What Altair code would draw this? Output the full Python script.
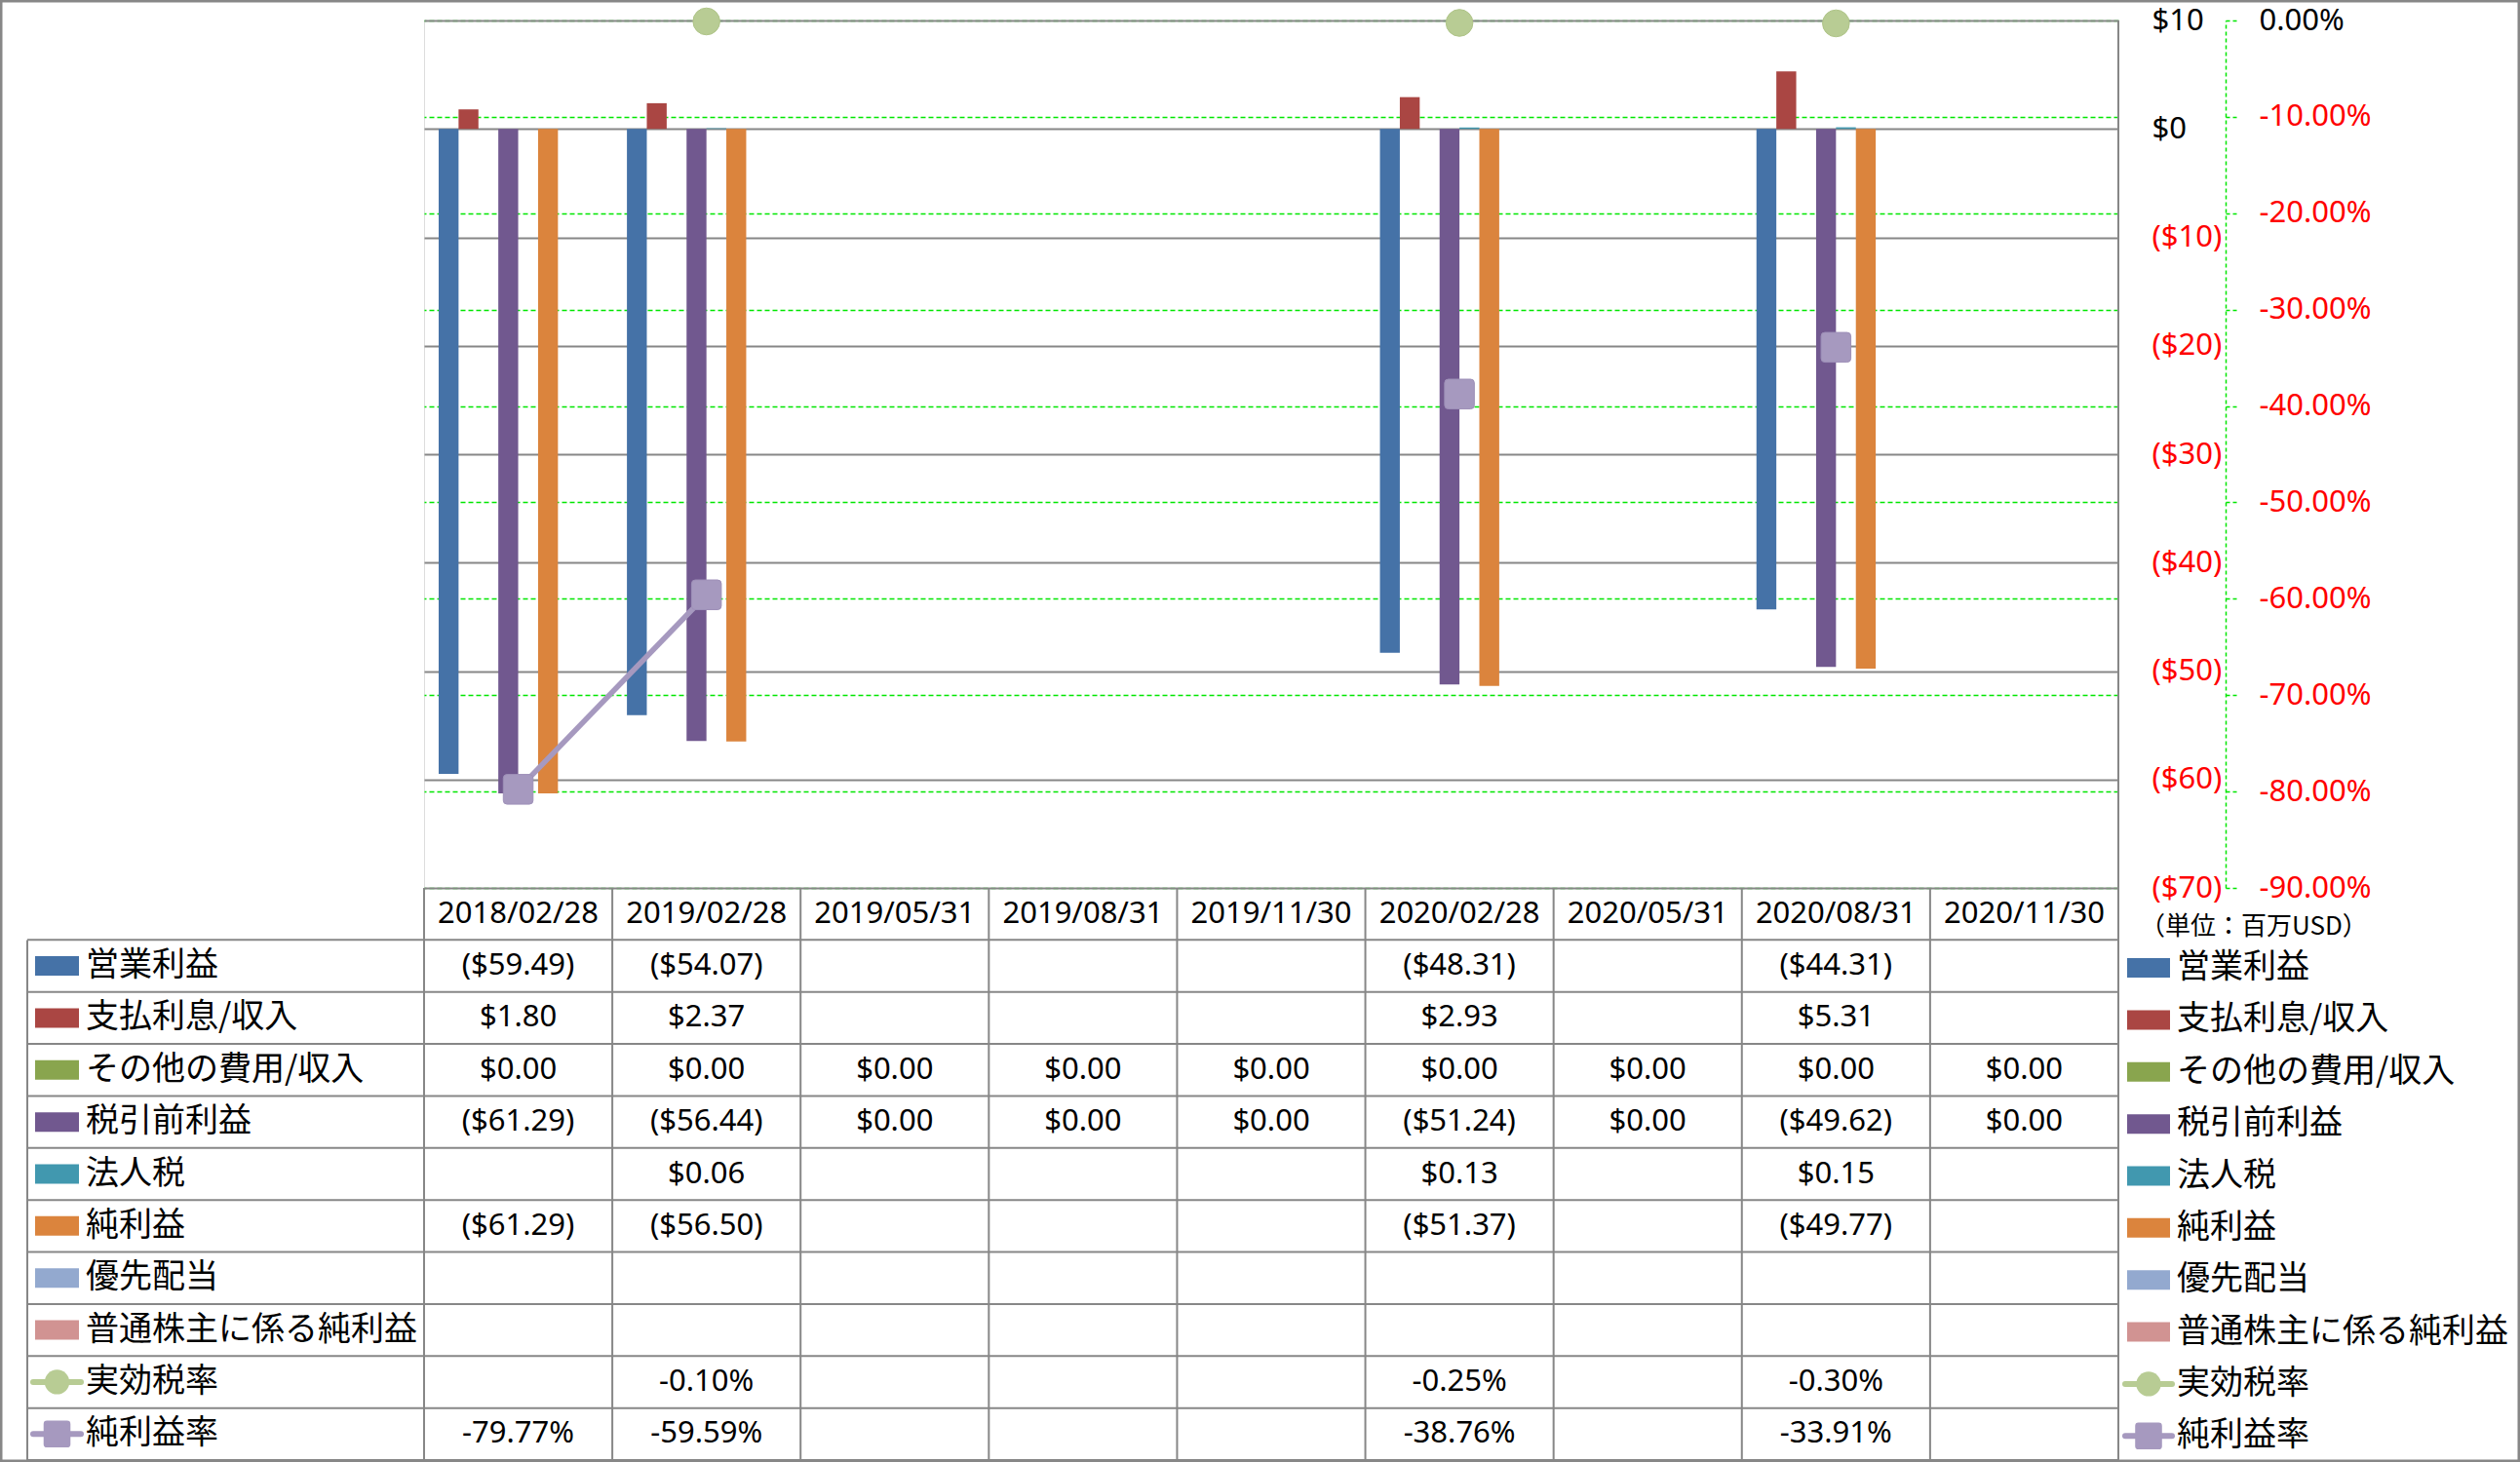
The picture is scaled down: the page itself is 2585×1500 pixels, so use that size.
import altair as alt
import pandas as pd

# ---------------- data ----------------
categories = ["2018/02/28", "2019/02/28", "2019/05/31", "2019/08/31", "2019/11/30",
              "2020/02/28", "2020/05/31", "2020/08/31", "2020/11/30"]

bar_series = ["営業利益", "支払利息/収入", "その他の費用/収入", "税引前利益",
              "法人税", "純利益", "優先配当", "普通株主に係る純利益"]
line_series = ["実効税率", "純利益率"]

operating_income = [-59.49, -54.07, None, None, None, -48.31, None, -44.31, None]
interest = [1.80, 2.37, None, None, None, 2.93, None, 5.31, None]
other_income = [0.00, 0.00, 0.00, 0.00, 0.00, 0.00, 0.00, 0.00, 0.00]
pretax_income = [-61.29, -56.44, 0.00, 0.00, 0.00, -51.24, 0.00, -49.62, 0.00]
income_tax = [None, 0.06, None, None, None, 0.13, None, 0.15, None]
net_income = [-61.29, -56.50, None, None, None, -51.37, None, -49.77, None]
preferred_div = [None, None, None, None, None, None, None, None, None]
common_net_income = [None, None, None, None, None, None, None, None, None]

effective_tax_rate = [None, -0.0010, None, None, None, -0.0025, None, -0.0030, None]
net_margin = [-0.7977, -0.5959, None, None, None, -0.3876, None, -0.3391, None]

dollar_ticks = [10, 0, -10, -20, -30, -40, -50, -60, -70]
pct_ticks = [0, -0.1, -0.2, -0.3, -0.4, -0.5, -0.6, -0.7, -0.8, -0.9]
unit_label = "（単位：百万USD）"

bar_colors = ["#4572A7", "#AA4643", "#89A54E", "#71588F", "#4198AF", "#DB843D", "#93A9CF", "#D19392"]
line_colors = ["#B8CC94", "#A699BF"]

bar_values = [operating_income, interest, other_income, pretax_income,
              income_tax, net_income, preferred_div, common_net_income]
line_values = [effective_tax_rate, net_margin]

all_series = bar_series + line_series
all_colors = bar_colors + line_colors
table_rows = ["header"] + all_series

# ---------------- frames ----------------
W, H = 1738, 890
TABLE_TOP, TABLE_BOTTOM = 890, 1477
GRAY = "#878787"
GREEN = "#00E600"
LATIN = "Noto Sans"
CJK = "Noto Sans CJK JP"

bar_rows = []
for s, vals in zip(bar_series, bar_values):
    for c, v in zip(categories, vals):
        if v is not None:
            bar_rows.append({"cat": c, "series": s, "value": v})
bar_df = pd.DataFrame(bar_rows)

pt_rows = []
seg_rows = []
for s, vals in zip(line_series, line_values):
    for i, (c, v) in enumerate(zip(categories, vals)):
        if v is not None:
            pt_rows.append({"cat": c, "series": s, "value": v})
        if i + 1 < len(vals) and v is not None and vals[i + 1] is not None:
            seg_rows.append({"cat": c, "series": s, "value": v, "seg": f"{s}{i}"})
            seg_rows.append({"cat": categories[i + 1], "series": s, "value": vals[i + 1], "seg": f"{s}{i}"})
pt_df = pd.DataFrame(pt_rows)
seg_df = pd.DataFrame(seg_rows)


def fmt_dollar(v):
    if v is None:
        return ""
    return f"(${abs(v):.2f})" if v < 0 else f"${v:.2f}"


def fmt_pct(v):
    if v is None:
        return ""
    return f"{v * 100:.2f}%"


cell_rows = [{"cat": c, "row": "header", "text": c} for c in categories]
for s, vals in zip(bar_series, bar_values):
    for c, v in zip(categories, vals):
        cell_rows.append({"cat": c, "row": s, "text": fmt_dollar(v)})
for s, vals in zip(line_series, line_values):
    for c, v in zip(categories, vals):
        cell_rows.append({"cat": c, "row": s, "text": fmt_pct(v)})
cell_df = pd.DataFrame(cell_rows)

label_df = pd.DataFrame({"row": all_series, "series": all_series})
bar_label_df = pd.DataFrame({"row": bar_series, "series": bar_series})
line_label_df = pd.DataFrame({"row": line_series, "series": line_series})
cat_df = pd.DataFrame({"cat": categories})
hline_df = pd.DataFrame({"row": all_series})
pct_tick_df = pd.DataFrame({"value": pct_ticks})
one = pd.DataFrame({"k": [0]})

# ---------------- scales ----------------
x_scale = alt.Scale(type="band", domain=categories, paddingInner=0, paddingOuter=0)
color_scale = alt.Scale(domain=all_series, range=all_colors)
dollar_scale = alt.Scale(domain=[-70, 10], nice=False, zero=False)
pct_scale = alt.Scale(domain=[-0.9, 0], nice=False, zero=False)
row_scale = alt.Scale(type="band", domain=table_rows, range=[TABLE_TOP, TABLE_BOTTOM],
                      paddingInner=0, paddingOuter=0)

neg_red = {"condition": {"test": "datum.value < 0", "value": "#FF0000"}, "value": "#000000"}

dollar_axis = alt.Axis(
    orient="right", values=dollar_ticks, title=None,
    labelExpr="datum.value < 0 ? '($' + format(-datum.value, 'd') + ')' : '$' + format(datum.value, 'd')",
    labelColor=neg_red, labelFont=LATIN, labelFontSize=31, labelAlign="left",
    labelBaseline="middle", labelPadding=34, labelFlush=False, labelOverlap=False,
    ticks=False, domain=False, grid=True, gridColor=GRAY, gridWidth=2,
)
pct_axis = alt.Axis(
    orient="right", offset=110, values=pct_ticks, title=None,
    labelExpr="(datum.value < 0 ? '-' : '') + format(abs(datum.value), '.2%')",
    labelColor=neg_red, labelFont=LATIN, labelFontSize=31, labelAlign="left",
    labelBaseline="middle", labelPadding=22, labelFlush=False, labelOverlap=False,
    domain=True, domainColor=GREEN, domainDash=[4, 3], domainWidth=1.5,
    ticks=True, tickColor=GREEN, tickDash=[4, 3], tickWidth=1.5, tickSize=12,
    grid=True, gridColor=GREEN, gridDash=[5, 3], gridWidth=1.5,
)

X = lambda bp=0.5: alt.X("cat:N", scale=x_scale, axis=None, bandPosition=bp)
ROW = lambda bp=0.5: alt.Y("row:N", scale=row_scale, axis=None, bandPosition=bp)
COLOR = alt.Color("series:N", scale=color_scale, legend=None)

# ---------------- plot ----------------
# invisible layer that only carries the percent axis (drawn first, under the $ grid)
pct_axis_layer = alt.Chart(pct_tick_df).mark_point(opacity=0).encode(
    y=alt.Y("value:Q", scale=pct_scale, axis=pct_axis))

bars = alt.Chart(bar_df).mark_bar().encode(
    x=alt.X("cat:N", scale=x_scale, axis=None),
    xOffset=alt.XOffset("series:N", sort=bar_series,
                        scale=alt.Scale(domain=bar_series, paddingInner=0, paddingOuter=0.735)),
    y=alt.Y("value:Q", scale=dollar_scale, axis=dollar_axis),
    color=COLOR,
)

lines = alt.Chart(seg_df).mark_line(strokeWidth=5.5).encode(
    x=X(), y=alt.Y("value:Q", scale=pct_scale, axis=None),
    detail="seg:N", color=COLOR,
)

rounded_sq = "M-0.75,-1H0.75Q1,-1,1,-0.75V0.75Q1,1,0.75,1H-0.75Q-1,1,-1,0.75V-0.75Q-1,-1,-0.75,-1Z"

circles = alt.Chart(pt_df).transform_filter(alt.datum.series == "実効税率").mark_point(
    shape="circle", filled=True, size=760, opacity=1, stroke="#AFC488", strokeWidth=1
).encode(x=X(), y=alt.Y("value:Q", scale=pct_scale, axis=None), color=COLOR)

squares = alt.Chart(pt_df).transform_filter(alt.datum.series == "純利益率").mark_point(
    shape=rounded_sq, filled=True, size=930, opacity=1, stroke="#9E90B8", strokeWidth=1
).encode(x=X(), y=alt.Y("value:Q", scale=pct_scale, axis=None), color=COLOR)

# ---------------- table ----------------
cells = alt.Chart(cell_df).mark_text(font=LATIN, fontSize=31, color="black",
                                     align="center", baseline="middle").encode(
    x=X(), y=ROW(), text="text:N")

vlines = alt.Chart(cat_df).mark_rule(color=GRAY, strokeWidth=2).encode(
    x=X(0), y=alt.value(TABLE_TOP), y2=alt.value(TABLE_BOTTOM))

hlines = alt.Chart(hline_df).mark_rule(color=GRAY, strokeWidth=2).encode(
    y=ROW(0), x=alt.value(-407), x2=alt.value(W))

frame_lines = alt.Chart(pd.DataFrame({
    "x": [-407, W, -407], "x2": [-407, W, W],
    "y": [943.4, 0, TABLE_BOTTOM], "y2": [TABLE_BOTTOM, TABLE_BOTTOM, TABLE_BOTTOM]
})).mark_rule(color=GRAY, strokeWidth=2).encode(
    x=alt.X("x:Q", scale=None), x2="x2:Q", y=alt.Y("y:Q", scale=None), y2="y2:Q")

outer = alt.Chart(one).mark_rect(filled=False, stroke=GRAY, strokeWidth=3).encode(
    x=alt.value(-434), x2=alt.value(2149), y=alt.value(-20), y2=alt.value(1478))

row_text = alt.Chart(label_df).mark_text(font=CJK, fontSize=34, color="black",
                                         align="left", baseline="middle").encode(
    x=alt.value(-347), y=ROW(), text="row:N")

legend_text = alt.Chart(label_df).mark_text(font=CJK, fontSize=34, color="black",
                                            align="left", baseline="middle", dy=2).encode(
    x=alt.value(1798), y=ROW(), text="row:N")


def swatches(x0, x1, xm, dy=0):
    bar_sw = alt.Chart(bar_label_df).mark_rule(strokeWidth=20, strokeCap="butt", yOffset=dy).encode(
        x=alt.value(x0), x2=alt.value(x1), y=ROW(), color=COLOR)
    line_sw = alt.Chart(line_label_df).mark_rule(strokeWidth=6, strokeCap="round", yOffset=dy).encode(
        x=alt.value(x0 - 2), x2=alt.value(x1 + 2), y=ROW(), color=COLOR)
    circ_sw = alt.Chart(line_label_df).transform_filter(alt.datum.series == "実効税率").mark_point(
        shape="circle", filled=True, size=640, opacity=1, yOffset=dy).encode(
        x=alt.value(xm), y=ROW(), color=COLOR)
    sq_sw = alt.Chart(line_label_df).transform_filter(alt.datum.series == "純利益率").mark_point(
        shape=rounded_sq, filled=True, size=760, opacity=1, yOffset=dy).encode(
        x=alt.value(xm), y=ROW(), color=COLOR)
    return [bar_sw, line_sw, circ_sw, sq_sw]


left_sw = swatches(-399, -354, -376.5)
right_sw = swatches(1747, 1791, 1769, dy=2)

unit_text = alt.Chart(pd.DataFrame({"t": [unit_label]})).mark_text(
    font=CJK, fontSize=26, color="black", align="left", baseline="middle").encode(
    x=alt.value(1760), y=alt.value(930), text="t:N")

chart = alt.layer(
    pct_axis_layer, bars, lines, circles, squares,
    cells, vlines, hlines, frame_lines, outer,
    row_text, legend_text, *left_sw, *right_sw, unit_text,
).resolve_scale(y="independent").properties(
    width=W, height=H,
    autosize=alt.AutoSizeParams(type="none"),
    padding={"left": 435, "top": 21, "right": 412, "bottom": 589},
).configure_view(stroke=None).configure(background="white")

chart.save("out.html", embed_options={"renderer": "svg", "actions": False})
